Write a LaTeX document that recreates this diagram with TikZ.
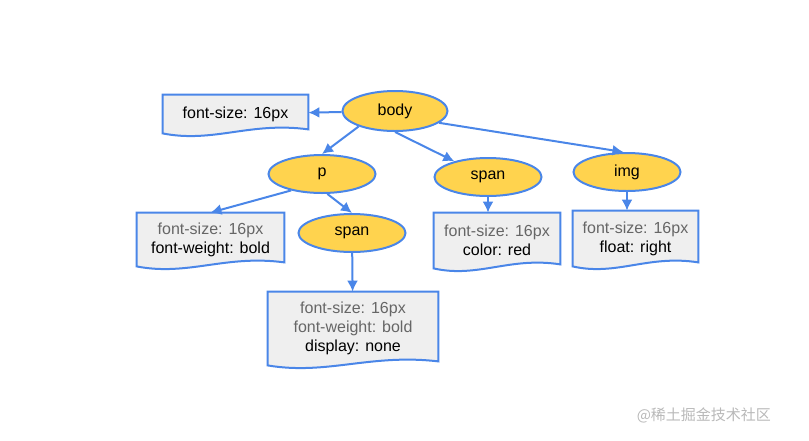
\documentclass[tikz,border=0pt]{standalone}
\usepackage{fontspec}
\setmainfont{Liberation Sans}
\newfontfamily\cjk{Noto Sans CJK SC}
\usetikzlibrary{arrows.meta,backgrounds,calc,shapes.geometric}
\definecolor{lineblue}{HTML}{4A86E8}
\definecolor{elfill}{HTML}{FFD34E}
\definecolor{docfill}{HTML}{EFEFEF}
\definecolor{txtgray}{HTML}{666666}
\begin{document}
\begin{tikzpicture}[x=0.5pt, y=-0.5pt,
  el/.style={ellipse, draw=lineblue, fill=elfill, line width=1pt, inner sep=0pt, minimum width=53.5pt, minimum height=19pt, font=\fontsize{8}{9.5}\selectfont},
  doc/.style={rectangle, inner sep=0pt, align=center, font=\fontsize{8}{9.5}\selectfont},
  e/.style={lineblue, line width=1pt, -{Latex[length=5.5pt,width=5.5pt]}}]
\useasboundingbox (0,0) rectangle (809,440);
% element nodes
\node[el, minimum width=52.5pt, minimum height=20pt] (body) at (395,111) {body};
\node[el] (p) at (322,174) {p};
\node[el] (span2) at (352,233) {span};
\node[el] (span1) at (488,177) {span};
\node[el] (img) at (627,172) {img};
% computed styles
\node[doc, minimum width=72.5pt, minimum height=19pt] (d0) at (235.5,114) {font-size: 16px};
\node[doc, minimum width=73.5pt, minimum height=26.5pt] (d1) at (210.5,239.5)
  {{\color{txtgray}font-size: 16px}\\font-weight: bold};
\node[doc, minimum width=85pt, minimum height=36.5pt] (d2) at (353,328.5)
  {{\color{txtgray}font-size: 16px}\\{\color{txtgray}font-weight: bold}\\display: none};
\node[doc, minimum width=63pt, minimum height=27.5pt] (d3) at (497,240.5)
  {{\color{txtgray}font-size: 16px}\\color: red};
\node[doc, minimum width=62.5pt, minimum height=27.5pt] (d4) at (635.5,238.5)
  {{\color{txtgray}font-size: 16px}\\float: right};
\begin{scope}[on background layer]
\foreach \n in {d0,d1,d2,d3,d4}
  \draw[lineblue, line width=1pt, fill=docfill] (\n.north west) -- (\n.north east) -- ($(\n.south east)+(0,-4)$)
    .. controls ($(\n.south west)!0.6!(\n.south east)+(0,-12)$) and ($(\n.south west)!0.35!(\n.south east)+(0,10)$) .. (\n.south west) -- cycle;
\end{scope}
% connectors
\draw[e] (body) -- (d0);
\draw[e] (body.203) -- (p.north);
\draw[e] (body.south) -- (span1.155);
\draw[e] (body.-15) -- (img.100);
\draw[e] (p.208) -- (d1.north);
\draw[e] (p.-75) -- (span2.north);
\draw[e] (span2) -- (d2);
\draw[e] (span1) -- (span1 |- d3.north);
\draw[e] (img) -- (img |- d4.north);
\node[font=\cjk\fontsize{7.5}{9}\selectfont, text=gray!55, anchor=east] (wm) at (778,415) {@稀土掘金技术社区};
\end{tikzpicture}
\end{document}
